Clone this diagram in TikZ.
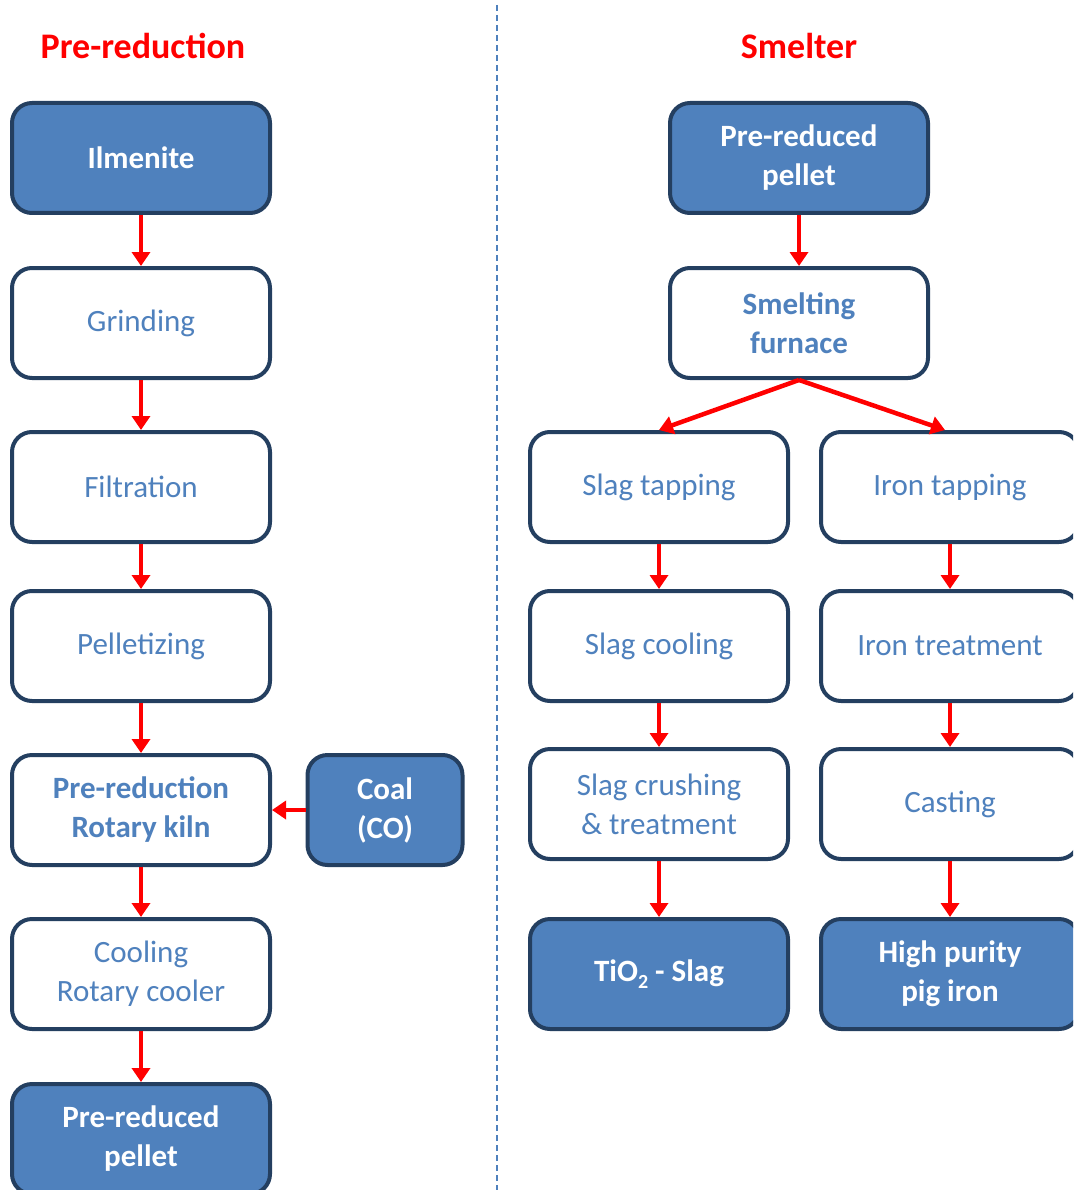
\documentclass[tikz,border=0pt]{standalone}
\usepackage{fontspec}
\setmainfont{Carlito}
\usetikzlibrary{arrows.meta}
\definecolor{boxblue}{HTML}{4F81BD}
\definecolor{boxline}{HTML}{243F60}

\begin{document}
\begin{tikzpicture}[x=1pt,y=-1pt,
    stage/.style={draw=boxline, line width=4pt, rounded corners=20pt, fill=white,
        text=boxblue, minimum width=258pt, minimum height=110pt, align=center,
        font=\fontsize{31}{39}\selectfont},
    feed/.style={stage, fill=boxblue, text=white, font=\fontsize{31}{39}\selectfont\bfseries},
    title/.style={text=red, font=\fontsize{36}{40}\selectfont\bfseries},
    ->/.style={draw=red, line width=4.5pt, -{Triangle[width=18pt,length=14pt]}}]
            \clip (0,0) rectangle (1073,1190);

            \node[title] (T1) at (143,46) {Pre-reduction};
            \node[title] (T2) at (799,46) {Smelter};
            \coordinate (sepT) at (497,5);
            \coordinate (sepB) at (497,1190);
            \draw[boxblue, line width=1.5pt, dash pattern=on 6pt off 4pt] (sepT) -- (sepB);

            \node[feed] (Ilm) at (141,158) {Ilmenite};
            \node[stage] (Grd) at (141,323) {Grinding};
            \node[stage] (Flt) at (141,487) {Filtration};
            \node[stage] (Plt) at (141,646) {Pelletizing};
            \node[stage, font=\fontsize{31}{39}\selectfont\bfseries] (Kln) at (141,810) {Pre-reduction\\Rotary kiln};
            \node[feed, minimum width=155pt] (Col) at (385,810) {Coal\\(CO)};
            \node[stage] (Cool) at (141,974) {Cooling\\Rotary cooler};
            \node[feed] (Prp) at (141,1139) {Pre-reduced\\pellet};

            \node[feed] (Prp2) at (799,158) {Pre-reduced\\pellet};
            \node[stage, font=\fontsize{31}{39}\selectfont\bfseries] (Smf) at (799,323) {Smelting\\furnace};
            \node[stage] (Slt) at (659,487) {Slag tapping};
            \node[stage] (Irt) at (950,487) {Iron tapping};
            \node[stage] (Slc) at (659,646) {Slag cooling};
            \node[stage] (Irtr) at (950,646) {Iron treatment};
            \node[stage] (Slcr) at (659,804) {Slag crushing\\\& treatment};
            \node[stage] (Cst) at (950,804) {Casting};
            \node[feed] (Tio) at (659,974) {TiO\raisebox{-0.45ex}{\fontsize{20}{20}\selectfont 2} - Slag};
            \node[feed] (Pig) at (950,974) {High purity\\pig iron};

            \draw[->] (Ilm) to (Grd); \draw[->] (Grd) to (Flt); \draw[->] (Flt) to (Plt);
            \draw[->] (Plt) to (Kln); \draw[->] (Kln) to (Cool); \draw[->] (Cool) to (Prp);
            \draw[->] (Col) to (Kln);
            \draw[->] (Prp2) to (Smf);
            \draw[->] (Smf.south) to (Slt.north); \draw[->] (Smf.south) to ([xshift=-5pt]Irt.north);
            \draw[->] (Slt) to (Slc); \draw[->] (Slc) to (Slcr); \draw[->] (Slcr) to (Tio);
            \draw[->] (Irt) to (Irtr); \draw[->] (Irtr) to (Cst); \draw[->] (Cst) to (Pig);
        \end{tikzpicture}
\end{document}
